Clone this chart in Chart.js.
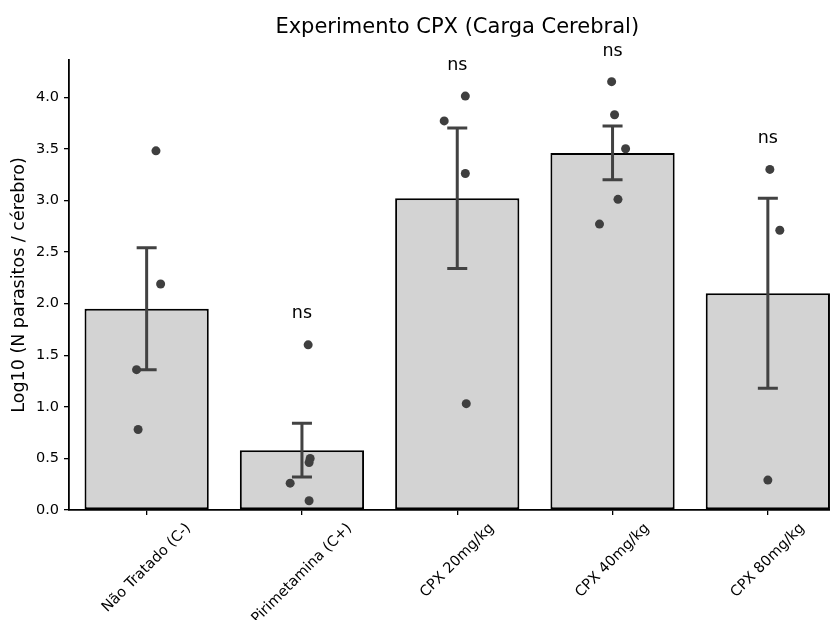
<!DOCTYPE html>
<html>
<head>
<meta charset="utf-8">
<script src="https://cdn.jsdelivr.net/npm/chart.js@4.4.1/dist/chart.umd.min.js"></script>
<style>
  html, body { margin: 0; padding: 0; overflow: hidden; background: #fff; }
  #wrap { width: 850px; height: 620px; }
</style>
</head>
<body>
<div id="wrap"><canvas id="cpxChart" width="850" height="620"></canvas></div>
<script>
// Data
const categories = ["Não Tratado (C-)", "Pirimetamina (C+)", "CPX 20mg/kg", "CPX 40mg/kg", "CPX 80mg/kg"];
const means = [1.95, 0.58, 3.02, 3.46, 2.10];
const sems = [0.59, 0.26, 0.68, 0.26, 0.92];
const pointValues = [
  [3.48, 2.19, 1.36, 0.78],
  [1.60, 0.50, 0.46, 0.26, 0.09],
  [4.01, 3.77, 3.26, 1.03],
  [4.15, 3.83, 3.50, 3.01, 2.77],
  [3.30, 2.71, 0.29]
];
const pointJitter = [
  [0.06, 0.09, -0.065, -0.055],
  [0.04, 0.053, 0.046, -0.076, 0.046],
  [0.052, -0.084, 0.052, 0.058],
  [-0.006, 0.013, 0.084, 0.035, -0.084],
  [0.013, 0.077, 0.0]
];
const nsValues = [null, 1.90, 4.31, 4.44, 3.60];
const yTicks = [0, 0.5, 1.0, 1.5, 2.0, 2.5, 3.0, 3.5, 4.0];

const FONT = "'DejaVu Sans', sans-serif";

const scatterData = [];
pointValues.forEach((vals, g) => {
  vals.forEach((v, k) => scatterData.push({ x: g + pointJitter[g][k], y: v }));
});

// Error bars, drawn right after the bars
const errorBars = {
  id: "errorBars",
  afterDatasetDraw(chart, args) {
    if (args.meta.type !== "bar") return;
    const ctx = chart.ctx;
    const xs = chart.scales.x;
    const ys = chart.scales.y;
    ctx.save();
    ctx.strokeStyle = "#424242";
    ctx.lineWidth = 3;
    means.forEach((m, i) => {
      const x = xs.getPixelForValue(i);
      const top = ys.getPixelForValue(m + sems[i]);
      const bot = ys.getPixelForValue(m - sems[i]);
      ctx.beginPath();
      ctx.moveTo(x, top); ctx.lineTo(x, bot);
      ctx.moveTo(x - 10, top); ctx.lineTo(x + 10, top);
      ctx.moveTo(x - 10, bot); ctx.lineTo(x + 10, bot);
      ctx.stroke();
    });
    ctx.restore();
  }
};

// Title, "ns" labels and rotated category labels
const extraText = {
  id: "extraText",
  afterDraw(chart) {
    const ctx = chart.ctx;
    const area = chart.chartArea;
    const xs = chart.scales.x;
    const ys = chart.scales.y;
    ctx.save();
    ctx.fillStyle = "#000";
    ctx.textAlign = "center";
    ctx.textBaseline = "alphabetic";
    ctx.font = "21px " + FONT;
    ctx.fillText("Experimento CPX (Carga Cerebral)", (area.left + area.right) / 2, 33);

    ctx.font = "17.5px " + FONT;
    ctx.textBaseline = "middle";
    nsValues.forEach((v, i) => {
      if (v === null) return;
      ctx.fillText("ns", xs.getPixelForValue(i), ys.getPixelForValue(v));
    });

    ctx.font = "14.5px " + FONT;
    const h = 14.5 * 1.17;
    categories.forEach((label, i) => {
      const w = ctx.measureText(label).width;
      const cx = xs.getPixelForValue(i);
      const cy = area.bottom + 10 + (w + h) / (2 * Math.SQRT2);
      ctx.save();
      ctx.translate(cx, cy);
      ctx.rotate(-Math.PI / 4);
      ctx.fillText(label, 0, 0);
      ctx.restore();
    });
    ctx.restore();
  }
};

new Chart(document.getElementById("cpxChart"), {
  type: "bar",
  data: {
    labels: categories,
    datasets: [
      {
        type: "scatter",
        data: scatterData,
        xAxisID: "xj",
        yAxisID: "y",
        backgroundColor: "#3f3f3f",
        borderWidth: 0,
        pointRadius: 4.5,
        order: 1
      },
      {
        type: "bar",
        data: means,
        xAxisID: "x",
        yAxisID: "y",
        backgroundColor: "#d3d3d3",
        borderColor: "#000",
        borderWidth: 2,
        borderSkipped: false,
        grouped: false,
        barPercentage: 0.8,
        categoryPercentage: 1.0,
        order: 2
      }
    ]
  },
  options: {
    responsive: false,
    animation: false,
    layout: { padding: { top: 60, right: 1, left: 0, bottom: 0 } },
    plugins: {
      legend: { display: false },
      tooltip: { enabled: false }
    },
    scales: {
      x: {
        type: "category",
        offset: true,
        grid: { offset: false, drawOnChartArea: false, drawTicks: true, tickLength: 5, color: "#000", lineWidth: 1.3 },
        border: { display: true, color: "#000", width: 1.8 },
        ticks: { display: false },
        afterFit(s) { s.height = 110; }
      },
      xj: {
        type: "linear",
        display: false,
        offset: false,
        grid: { offset: false },
        min: -0.5,
        max: 4.5
      },
      y: {
        type: "linear",
        min: 0,
        max: 4.36,
        afterBuildTicks(s) { s.ticks = yTicks.map(v => ({ value: v })); },
        grid: { drawOnChartArea: false, drawTicks: true, tickLength: 5, color: "#000", lineWidth: 1.3 },
        border: { display: true, color: "#000", width: 1.8 },
        ticks: {
          color: "#000",
          padding: 5,
          font: { family: FONT, size: 14.5 },
          callback: v => Number(v).toFixed(1)
        },
        title: {
          display: true,
          text: "Log10 (N parasitos / cérebro)",
          color: "#000",
          font: { family: FONT, size: 17.5 },
          padding: { top: 9, bottom: 0 }
        },
        afterFit(s) { s.width = 69; }
      }
    }
  },
  plugins: [errorBars, extraText]
});
</script>
</body>
</html>
